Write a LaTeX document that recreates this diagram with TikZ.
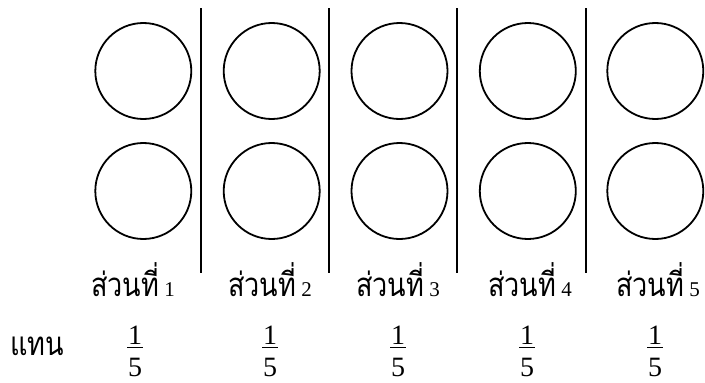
\documentclass[tikz,border=0pt]{standalone}
\usepackage{fontspec}
\setmainfont{Liberation Serif}
\newfontfamily\thaifont[Script=Thai,FakeStretch=0.82]{Loma}
\begin{document}
\begin{tikzpicture}[x=1pt,y=-1pt,
  ring/.style={draw,circle,line width=1.8pt,minimum size=96pt,inner sep=0pt},
  sep/.style={line width=1.8pt},
  partlabel/.style={anchor=base,inner sep=0pt,font=\fontsize{33}{40}\selectfont},
  digit/.style={anchor=base,inner sep=0pt,font=\fontsize{28}{32}\selectfont},
  bar/.style={line width=1.2pt}]
\useasboundingbox (0,0) rectangle (705,383);
% circles
\foreach \i/\x in {1/143.3,2/271.7,3/399.5,4/527.8,5/655.3}{
  \node[ring] (t\i) at (\x,71) {};
  \node[ring] (b\i) at (\x,191) {};
}
% separators
\foreach \i/\x in {1/201,2/329,3/457,4/586}{
  \coordinate (s\i top) at (\x,8);
  \coordinate (s\i bot) at (\x,273);
  \draw[sep] (s\i top) -- (s\i bot);
}
% labels
\foreach \i/\x in {1/133,2/270,3/398,4/530,5/658}{
  \node[partlabel] (p\i) at (\x,296) {{\thaifont ส่วนที่}\hspace{5pt}{\fontsize{21}{24}\selectfont\i}};
}
\node[partlabel,anchor=base west] (rep) at (10,355) {\thaifont แทน};
% fractions
\foreach \i/\x in {1/135,2/270,3/398,4/527,5/655}{
  \node[digit] (n\i) at (\x,344) {1};
  \node[digit] (d\i) at (\x,376) {5};
  \coordinate (l\i) at (\x-8,347.5);
  \coordinate (r\i) at (\x+8,347.5);
  \draw[bar] (l\i) -- (r\i);
}
\end{tikzpicture}
\end{document}
